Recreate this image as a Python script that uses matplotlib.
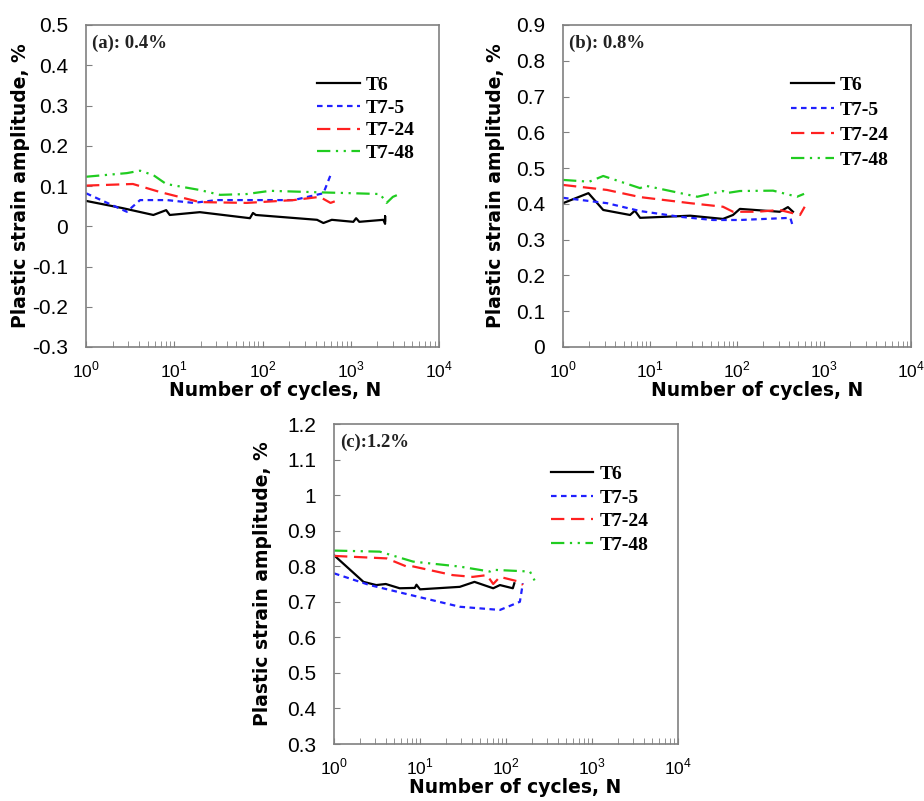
import math
import matplotlib
matplotlib.use("Agg")
import matplotlib.pyplot as plt
from matplotlib.ticker import LogLocator, FixedLocator, FuncFormatter, NullFormatter

plt.rcParams['font.family'] = ['Liberation Sans', 'DejaVu Sans']
plt.rcParams['mathtext.fontset'] = 'custom'
plt.rcParams['mathtext.rm'] = 'Liberation Sans'

# ---- data ----
# (a) 0.4 %
a_t6_n = [1, 2.6, 5.8, 8.1, 8.9, 19.5, 72, 78, 84, 415, 490, 610, 1070, 1150, 1250, 2340, 2450, 2450, 2450]
a_t6_y = [0.063, 0.045, 0.028, 0.040, 0.028, 0.035, 0.020, 0.033, 0.028, 0.016, 0.008, 0.016, 0.011, 0.020, 0.011, 0.016, 0.006, 0.025, 0.014]
a_t75_n = [1, 2.9, 4.1, 8.3, 16.5, 30, 225, 490, 590]
a_t75_y = [0.082, 0.036, 0.065, 0.065, 0.058, 0.065, 0.065, 0.082, 0.127]
a_t724_n = [1, 3.4, 6.9, 19.5, 66, 225, 445, 590, 720]
a_t724_y = [0.101, 0.105, 0.085, 0.060, 0.058, 0.065, 0.073, 0.058, 0.065]
a_t748_n = [1, 2.9, 4.1, 5.8, 8.1, 19.5, 33, 66, 122, 490, 1070, 2150, 2550, 3000, 3400]
a_t748_y = [0.123, 0.132, 0.138, 0.127, 0.105, 0.090, 0.078, 0.080, 0.088, 0.084, 0.082, 0.080, 0.058, 0.073, 0.078]

# (b) 0.8 %
b_t6_n = [1, 1.96, 2.9, 5.9, 6.7, 7.7, 29, 69, 90, 108, 310, 385, 440]
b_t6_y = [0.402, 0.430, 0.383, 0.369, 0.381, 0.361, 0.367, 0.358, 0.369, 0.386, 0.378, 0.391, 0.378]
b_t75_n = [1, 3.2, 7.7, 22, 53, 108, 410, 440]
b_t75_y = [0.417, 0.402, 0.380, 0.364, 0.355, 0.355, 0.361, 0.336]
b_t724_n = [1, 3.2, 7.7, 29, 69, 90, 170, 310, 530, 600]
b_t724_y = [0.453, 0.439, 0.419, 0.402, 0.392, 0.378, 0.378, 0.383, 0.369, 0.392]
b_t748_n = [1, 2.0, 2.9, 7.7, 8.8, 35, 69, 75, 108, 260, 490, 590]
b_t748_y = [0.467, 0.462, 0.478, 0.444, 0.451, 0.420, 0.436, 0.430, 0.436, 0.437, 0.420, 0.428]

# (c) 1.2 %
c_t6_n = [1, 2.2, 3.1, 4.0, 5.8, 8.7, 9.1, 10, 29, 43, 71, 85, 120, 125]
c_t6_y = [0.831, 0.756, 0.747, 0.750, 0.738, 0.739, 0.748, 0.735, 0.742, 0.756, 0.738, 0.747, 0.738, 0.752]
c_t75_n = [1, 2.6, 6.4, 29, 85, 145, 157]
c_t75_y = [0.780, 0.747, 0.724, 0.686, 0.677, 0.700, 0.752]
c_t724_n = [1, 4.1, 7.0, 8.1, 24, 41, 60, 71, 85, 145, 157]
c_t724_y = [0.829, 0.822, 0.799, 0.800, 0.775, 0.770, 0.775, 0.750, 0.770, 0.756, 0.747]
c_t748_n = [1, 3.4, 8.3, 29, 65, 70, 190, 215]
c_t748_y = [0.844, 0.841, 0.813, 0.799, 0.785, 0.790, 0.785, 0.760]

series_names = ['T6', 'T7-5', 'T7-24', 'T7-48']
panel_labels = ['(a): 0.4%', '(b): 0.8%', '(c):1.2%']
y_ranges = [(-0.3, 0.5), (0.0, 0.9), (0.3, 1.2)]

styles = [
    dict(color='black', lw=1.6, ls='-'),
    dict(color='#2020ff', lw=1.6, ls=(0, (2.5, 2.0))),
    dict(color='#ff2020', lw=1.6, ls=(0, (6, 3))),
    dict(color='#20cc20', lw=1.6, ls=(0, (6, 2.5, 1, 2.5, 1, 2.5))),
]

panels = [
    [(a_t6_n, a_t6_y), (a_t75_n, a_t75_y), (a_t724_n, a_t724_y), (a_t748_n, a_t748_y)],
    [(b_t6_n, b_t6_y), (b_t75_n, b_t75_y), (b_t724_n, b_t724_y), (b_t748_n, b_t748_y)],
    [(c_t6_n, c_t6_y), (c_t75_n, c_t75_y), (c_t724_n, c_t724_y), (c_t748_n, c_t748_y)],
]

W, H = 924, 801
boxes = [(86, 25, 439, 347), (563, 25, 911, 347), (334, 424, 678, 744)]
leg_pos = [(0.655, 0.84), (0.655, 0.84), (0.63, 0.87)]
leg_space = [0.26, 0.38, 0.3]
ylab_x = [-0.159, -0.167, -0.18]
xlab_x = [0.535, 0.557, 0.526]

fig = plt.figure(figsize=(W / 100, H / 100), dpi=100)
frame = '#808080'
label_font = dict(fontsize=13.5, fontweight='bold', family=['DejaVu Sans'])

for i, (x0, y0, x1, y1) in enumerate(boxes):
    ax = fig.add_axes([x0 / W, 1 - y1 / H, (x1 - x0) / W, (y1 - y0) / H])
    for (n, y), name, st in zip(panels[i], series_names, styles):
        ax.plot(n, y, label=name, **st)
    ax.set_xscale('log')
    ax.set_xlim(1, 1e4)
    lo, hi = y_ranges[i]
    ax.set_ylim(lo, hi)
    ax.yaxis.set_major_locator(FixedLocator([round(lo + 0.1 * k, 1) for k in range(10) if lo + 0.1 * k <= hi + 1e-9]))
    ax.yaxis.set_major_formatter(FuncFormatter(lambda v, p: '%g' % round(v, 1)))
    ax.xaxis.set_major_locator(LogLocator(base=10, numticks=10))
    ax.xaxis.set_minor_locator(LogLocator(base=10, subs=range(2, 10), numticks=20))
    ax.xaxis.set_minor_formatter(NullFormatter())
    ax.xaxis.set_major_formatter(FuncFormatter(lambda v, p: r'$10^{%d}$' % round(math.log10(v))))
    ax.tick_params(which='both', direction='in', color=frame, length=4)
    ax.tick_params(axis='x', labelsize=12.5, pad=9)
    ax.tick_params(axis='y', labelsize=15, pad=13)
    for s in ax.spines.values():
        s.set_color(frame)
        s.set_linewidth(1.2)
    ax.set_xlabel('Number of cycles, N', **label_font)
    ax.set_ylabel('Plastic strain amplitude, %', **label_font)
    ax.xaxis.set_label_coords(xlab_x[i], -0.106)
    ax.yaxis.set_label_coords(ylab_x[i], 0.5)
    ax.text(0.017, 0.943, panel_labels[i], transform=ax.transAxes, fontsize=13.5,
            fontweight='bold', family=['Liberation Serif'], color='#222222', va='center')
    ax.legend(loc='upper left', bbox_to_anchor=leg_pos[i], frameon=False,
              prop=dict(family='Liberation Serif', weight='bold', size=14),
              handlelength=2.2, handletextpad=0.3, labelspacing=leg_space[i],
              borderpad=0, borderaxespad=0)

fig.savefig('out.png', dpi=100)
